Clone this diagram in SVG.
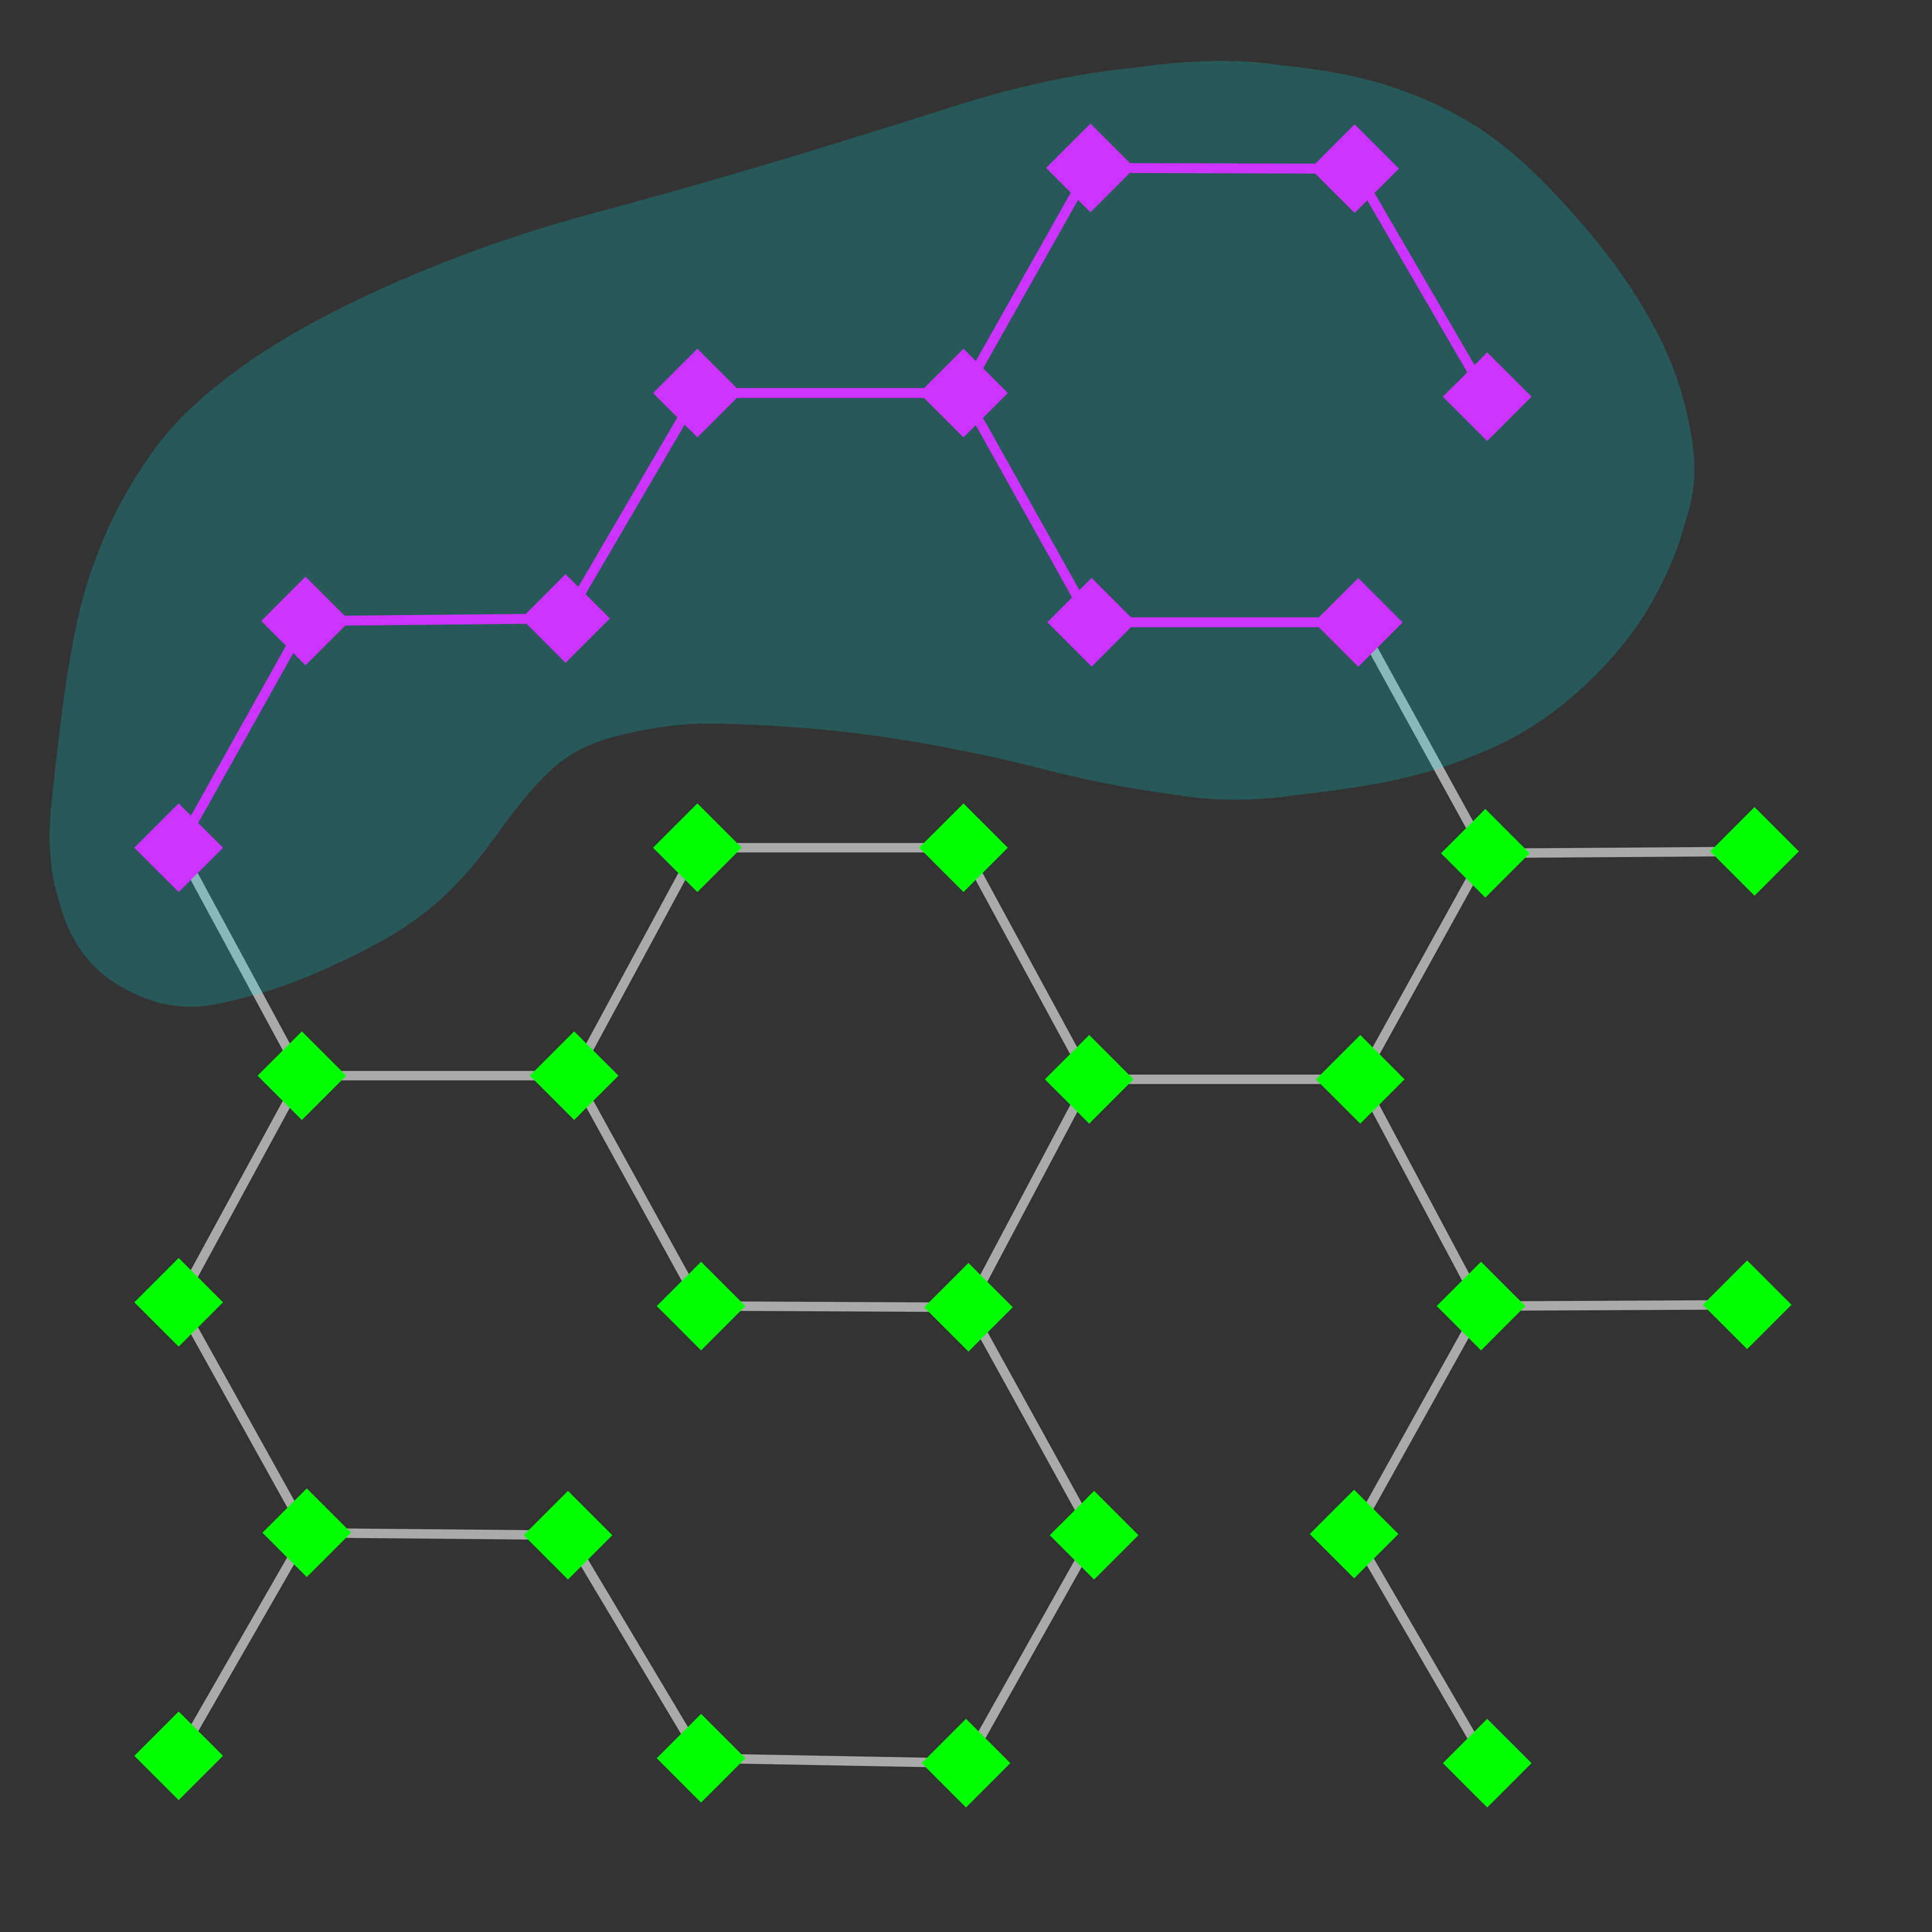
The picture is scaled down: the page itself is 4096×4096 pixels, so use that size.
<svg xmlns="http://www.w3.org/2000/svg" xmlns:xlink="http://www.w3.org/1999/xlink" width="4096" height="4096" viewBox="0 0 4096 4096">
<style>
.gray line{stroke:#aaaaaa;stroke-width:20}
.purp line{stroke:#cc33ff;stroke-width:21}
.pn{fill:#cc33ff}
.gn{fill:#00ff00}
.blob{fill:#00f5f5;fill-opacity:0.2}
</style>
<defs>
<path id="dia" d="M0,-94 L94,0 L0,94 L-94,0 Z"/>
</defs>
<rect width="4096" height="4096" fill="#333333"/>
<g id="connectors">
<g class="gray">
<line x1="378.8" y1="1797.2" x2="640" y2="2280.5"/>
<line x1="2879.7" y1="1319.4" x2="3149" y2="1809"/>
<line x1="1478.5" y1="1797.2" x2="2042.7" y2="1797.2"/>
<line x1="1478.5" y1="1797.2" x2="1217.3" y2="2280.5"/>
<line x1="2042.7" y1="1797.2" x2="2309.2" y2="2288.3"/>
<line x1="3149" y1="1809" x2="3719.8" y2="1805"/>
<line x1="3149" y1="1809" x2="2883.9" y2="2288.3"/>
<line x1="640" y1="2280.5" x2="1217.3" y2="2280.5"/>
<line x1="640" y1="2280.5" x2="378.8" y2="2761.1"/>
<line x1="1217.3" y1="2280.5" x2="1486.3" y2="2768.9"/>
<line x1="2309.2" y1="2288.3" x2="2883.9" y2="2288.3"/>
<line x1="2309.2" y1="2288.3" x2="2053.2" y2="2771.5"/>
<line x1="2883.9" y1="2288.3" x2="3139.9" y2="2768.9"/>
<line x1="378.8" y1="2761.1" x2="650.4" y2="3249.6"/>
<line x1="1486.3" y1="2768.9" x2="2053.2" y2="2771.5"/>
<line x1="2053.2" y1="2771.5" x2="2319.6" y2="3254.8"/>
<line x1="3139.9" y1="2768.9" x2="3704.1" y2="2766.3"/>
<line x1="3139.9" y1="2768.9" x2="2870.8" y2="3252.2"/>
<line x1="650.4" y1="3249.6" x2="1204.2" y2="3254.8"/>
<line x1="650.4" y1="3249.6" x2="378.8" y2="3722.4"/>
<line x1="1204.2" y1="3254.8" x2="1486.3" y2="3727.6"/>
<line x1="2319.6" y1="3254.8" x2="2048" y2="3738.1"/>
<line x1="1486.3" y1="3727.6" x2="2048" y2="3738.1"/>
<line x1="2870.8" y1="3252.2" x2="3153" y2="3738.1"/>
</g>
</g>
<path class="blob" transform="scale(2.6122)" d="M 920 55 Q 990 45 1040 53 Q 1090 58 1125 69 Q 1160 80 1190 97.5 Q 1220 115 1250 145 Q 1280 175 1305 207.5 Q 1330 240 1347.5 275 Q 1365 310 1372 350 Q 1380 390 1368 422.5 Q 1360 455 1340 490 Q 1320 525 1285 557.5 Q 1250 590 1210 607.5 Q 1170 625 1135 632.5 Q 1100 640 1050 645.5 Q 1000 653 950 644.5 Q 900 638 850 625 Q 800 612 745 602.5 Q 690 593 635 589.5 Q 580 586 555 588 Q 530 590 500 597.5 Q 470 605 450 622.5 Q 430 640 405 675 Q 380 710 357.5 730 Q 335 750 307.5 765 Q 280 780 250 792.5 Q 220 805 185 813 Q 150 822 120 811 Q 90 800 72.5 780 Q 55 760 47.5 730 Q 38 700 41 660 Q 45 620 50 580 Q 55 540 62.5 505 Q 70 470 85 435 Q 100 400 125 365 Q 150 330 200 295 Q 250 260 325 227.5 Q 400 195 480 173.5 Q 560 152 630 131 Q 700 110 775 86 Q 850 62 920 55 Z"/>
<g id="connectors-purple">
<g class="purp">
<line x1="2311.8" y1="356" x2="2871.9" y2="357.6"/>
<line x1="2871.9" y1="357.6" x2="3153" y2="841.1"/>
<line x1="2311.8" y1="356" x2="2042.7" y2="833.3"/>
<line x1="1478.5" y1="833.3" x2="2042.7" y2="833.3"/>
<line x1="1478.5" y1="833.3" x2="1199" y2="1311.3"/>
<line x1="647.8" y1="1316.5" x2="1199" y2="1311.3"/>
<line x1="647.8" y1="1316.5" x2="378.8" y2="1797.2"/>
<line x1="2042.7" y1="833.3" x2="2314.4" y2="1319.2"/>
<line x1="2314.4" y1="1319.2" x2="2879.7" y2="1319.4"/>
</g>
</g>
<g id="p1" class="pn"><use xlink:href="#dia" x="2311.8" y="356"/></g>
<g id="p2" class="pn"><use xlink:href="#dia" x="2871.9" y="357.6"/></g>
<g id="p3" class="pn"><use xlink:href="#dia" x="3153" y="841.1"/></g>
<g id="p4" class="pn"><use xlink:href="#dia" x="1478.5" y="833.3"/></g>
<g id="p5" class="pn"><use xlink:href="#dia" x="2042.7" y="833.3"/></g>
<g id="p6" class="pn"><use xlink:href="#dia" x="647.8" y="1316.5"/></g>
<g id="p7" class="pn"><use xlink:href="#dia" x="1199" y="1311.3"/></g>
<g id="p8" class="pn"><use xlink:href="#dia" x="2314.4" y="1319.2"/></g>
<g id="p9" class="pn"><use xlink:href="#dia" x="2879.7" y="1319.4"/></g>
<g id="p10" class="pn"><use xlink:href="#dia" x="378.8" y="1797.2"/></g>
<g id="g1" class="gn"><use xlink:href="#dia" x="1478.5" y="1797.2"/></g>
<g id="g2" class="gn"><use xlink:href="#dia" x="2042.7" y="1797.2"/></g>
<g id="g3" class="gn"><use xlink:href="#dia" x="3149" y="1809"/></g>
<g id="g4" class="gn"><use xlink:href="#dia" x="3719.8" y="1805"/></g>
<g id="g5" class="gn"><use xlink:href="#dia" x="640" y="2280.5"/></g>
<g id="g6" class="gn"><use xlink:href="#dia" x="1217.3" y="2280.5"/></g>
<g id="g7" class="gn"><use xlink:href="#dia" x="2309.2" y="2288.3"/></g>
<g id="g8" class="gn"><use xlink:href="#dia" x="2883.9" y="2288.3"/></g>
<g id="g9" class="gn"><use xlink:href="#dia" x="378.8" y="2761.1"/></g>
<g id="g10" class="gn"><use xlink:href="#dia" x="1486.3" y="2768.9"/></g>
<g id="g11" class="gn"><use xlink:href="#dia" x="2053.2" y="2771.5"/></g>
<g id="g12" class="gn"><use xlink:href="#dia" x="3139.9" y="2768.9"/></g>
<g id="g13" class="gn"><use xlink:href="#dia" x="3704.1" y="2766.3"/></g>
<g id="g14" class="gn"><use xlink:href="#dia" x="650.4" y="3249.6"/></g>
<g id="g15" class="gn"><use xlink:href="#dia" x="1204.2" y="3254.8"/></g>
<g id="g16" class="gn"><use xlink:href="#dia" x="2319.6" y="3254.8"/></g>
<g id="g17" class="gn"><use xlink:href="#dia" x="2870.8" y="3252.2"/></g>
<g id="g18" class="gn"><use xlink:href="#dia" x="378.8" y="3722.4"/></g>
<g id="g19" class="gn"><use xlink:href="#dia" x="1486.3" y="3727.6"/></g>
<g id="g20" class="gn"><use xlink:href="#dia" x="2048" y="3738.1"/></g>
<g id="g21" class="gn"><use xlink:href="#dia" x="3153" y="3738.1"/></g>
</svg>
